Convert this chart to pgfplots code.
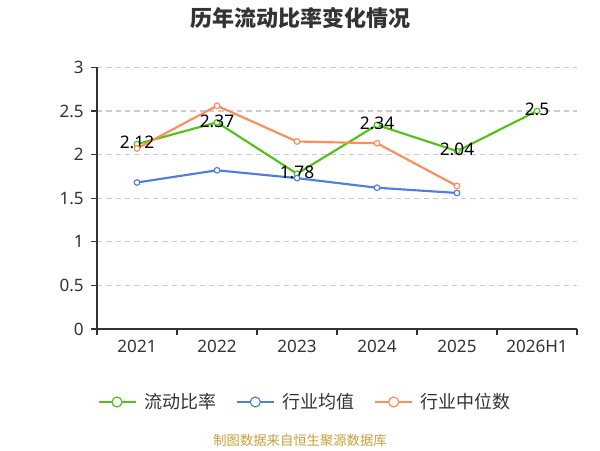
\documentclass[border=0pt]{standalone}
\usepackage{pgfplots}
\pgfplotsset{compat=1.18}
\usepackage{fontspec}
\setmainfont{Noto Sans}
\newfontfamily\cjk{Noto Sans CJK SC}
\definecolor{cg}{RGB}{82,194,26}
\definecolor{cb}{RGB}{78,126,224}
\definecolor{co}{RGB}{255,140,90}
\definecolor{tx}{RGB}{51,51,51}
\definecolor{gold}{RGB}{200,160,60}
\definecolor{gridc}{RGB}{204,204,204}
\begin{document}
\begin{tikzpicture}[x=1pt,y=1pt]
\path[use as bounding box] (0,0) rectangle (450,337.5);
\node[font=\cjk\bfseries\fontsize{16.5}{18}\selectfont, text=tx] at (225,324) {历年流动比率变化情况};
\node[font=\cjk\fontsize{10}{12}\selectfont, text=gold] at (225,7.5) {制图数据来自恒生聚源数据库};
\begin{axis}[
  at={(72.75pt,90.75pt)}, anchor=south west, scale only axis,
  width=360pt, height=196.2pt,
  xmin=-0.5, xmax=5.5, ymin=0, ymax=3,
  xtick={-0.5,0.5,...,5.5},
  x tick label as interval,
  xticklabels={2021,2022,2023,2024,2025,2026H1},
  ytick={0,0.5,...,3},
  yticklabels={0,0.5,1,1.5,2,2.5,3},
  axis lines*=left,
  axis line style={tx, line width=0.8pt},
  tick style={tx, line width=0.8pt},
  tick align=outside,
  major tick length=4.5pt,
  ymajorgrids,
  grid style={gridc, line width=0.8pt, dash pattern=on 4pt off 3pt},
  tick label style={font=\fontsize{12.8}{14}\selectfont, text=tx},
  yticklabel style={xshift=-2pt},
  /pgf/number format/assume math mode=true,
  legend columns=3,
  legend style={at={(0.432,-0.279)}, anchor=center, draw=none, fill=none,
    font=\cjk\fontsize{13.5}{15}\selectfont, text=tx,
    nodes={inner sep=0pt},
    /tikz/every odd column/.append style={column sep=6pt},
    /tikz/every even column/.append style={column sep=15pt}},
  legend cell align=left,
  legend image code/.code={\draw[mark repeat=2,mark phase=2,#1,line width=1pt,mark size=3.75pt] plot coordinates {(0pt,0pt)(13.875pt,0pt)(27.75pt,0pt)};},
]
\addplot[cg, line width=1.6pt, mark=*, mark size=2.1pt, mark options={fill=white, line width=0.9pt},
  nodes near coords,
  nodes near coords style={anchor=center, text=black, font=\fontsize{13}{15}\selectfont, yshift=1pt}]
  coordinates {(0,2.12)(1,2.37)(2,1.78)(3,2.34)(4,2.04)(5,2.5)};
\addlegendentry{流动比率}
\addplot[cb, line width=1.6pt, mark=*, mark size=2.1pt, mark options={fill=white, line width=0.9pt}]
  coordinates {(0,1.68)(1,1.82)(2,1.73)(3,1.62)(4,1.56)};
\addlegendentry{行业均值}
\addplot[co, line width=1.6pt, mark=*, mark size=2.1pt, mark options={fill=white, line width=0.9pt}]
  coordinates {(0,2.07)(1,2.56)(2,2.15)(3,2.13)(4,1.64)};
\addlegendentry{行业中位数}
\end{axis}
\end{tikzpicture}
\end{document}
